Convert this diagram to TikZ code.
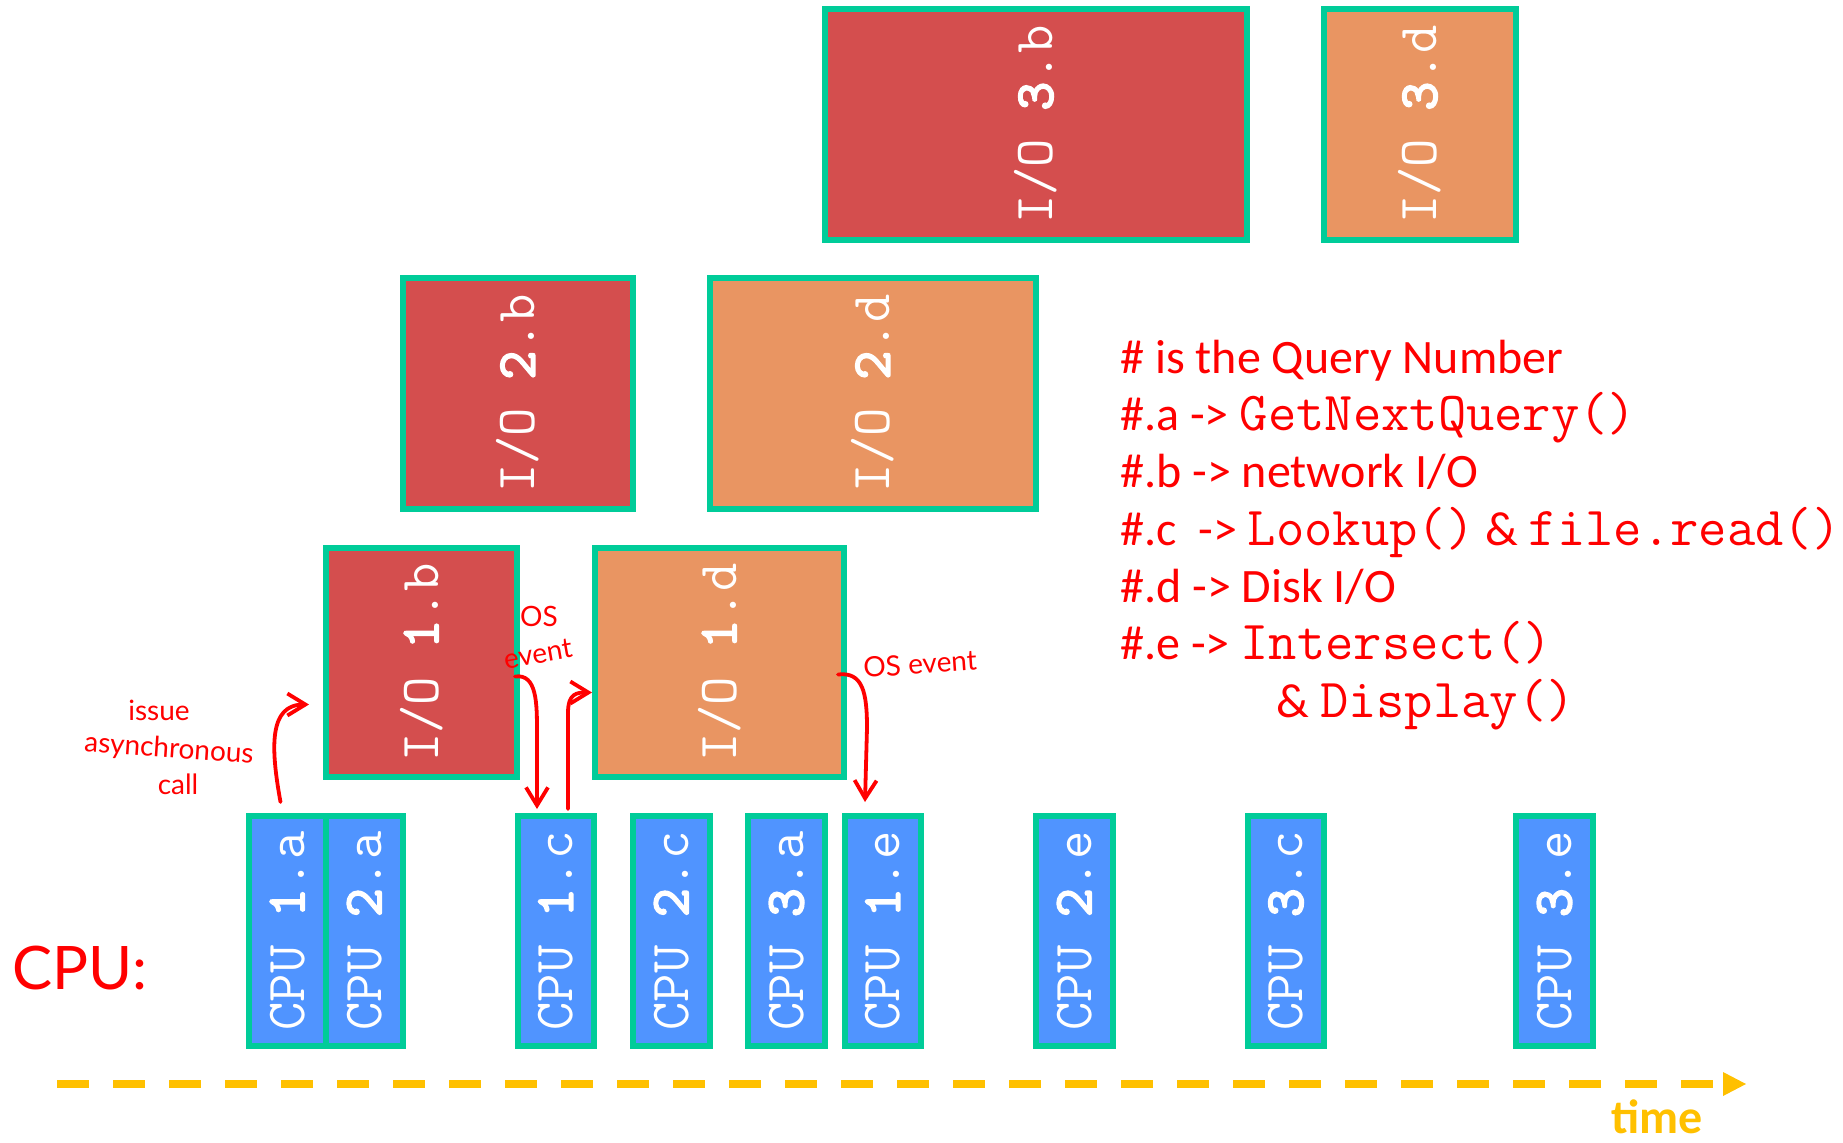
\documentclass[tikz,border=0pt]{standalone}
\usepackage{fontspec}
\usepackage{graphicx}
\usetikzlibrary{arrows.meta,calc}
\setmainfont{Carlito}
\newfontfamily\hand{Lato}
\newfontfamily\ttbold{lmmono10-regular.otf}[FakeBold=3]
\definecolor{iored}{RGB}{212,78,78}
\definecolor{ioorange}{RGB}{233,149,98}
\definecolor{cpublue}{RGB}{80,148,255}
\definecolor{bordergreen}{RGB}{0,204,153}
\definecolor{timegold}{RGB}{255,192,0}
\newcommand\legmono{\ttfamily\fontsize{27.5}{28}\selectfont}
\newcommand\dg[1]{{\ttbold #1}}
\newcommand\mkbox[7]{\node[#6, minimum width={(#4-#2-6)*0.5pt}, minimum height={(#5-#3-6)*0.5pt}] (#1) at ({(#2+#4)/2},{-(#3+#5)/2}) {\rotatebox{90}{#7}};}
\tikzset{
  blk/.style={draw=bordergreen, line width=3pt, inner sep=0pt, text=white, font=\ttfamily\fontsize{27.5}{27.5}\selectfont},
  redblk/.style={blk, fill=iored},
  orangeblk/.style={blk, fill=ioorange},
  cpublk/.style={blk, fill=cpublue},
  legend/.style={anchor=base west, text=red, font=\fontsize{24}{28}\selectfont, inner sep=0pt},
  note/.style={text=red, font=\hand\fontsize{14}{16}\selectfont, inner sep=0pt},
  handarrow/.style={red, line width=1.9pt, line cap=round, line join=round, -{Straight Barb[length=9pt,width=11pt]}},
  timeline/.style={timegold, line width=4pt, dash pattern=on 16pt off 12pt}
}
\begin{document}
\begin{tikzpicture}[x=0.5pt,y=0.5pt]
\useasboundingbox (0,0) rectangle (1843,-1142);
% I/O row 3
\mkbox{io3b}{822}{6}{1250}{243}{redblk}{I/O \dg{3}.b}
\mkbox{io3d}{1321}{6}{1519}{243}{orangeblk}{I/O \dg{3}.d}
% I/O row 2
\mkbox{io2b}{400}{275}{636}{512}{redblk}{I/O \dg{2}.b}
\mkbox{io2d}{707}{275}{1039}{512}{orangeblk}{I/O \dg{2}.d}
% I/O row 1
\mkbox{io1b}{323}{545}{520}{780}{redblk}{I/O \dg{1}.b}
\mkbox{io1d}{592}{545}{847}{780}{orangeblk}{I/O \dg{1}.d}
% CPU row
\mkbox{cpu1a}{246}{813}{329}{1049}{cpublk}{CPU \dg{1}.a}
\mkbox{cpu2a}{323}{813}{406}{1049}{cpublk}{CPU \dg{2}.a}
\mkbox{cpu1c}{515}{813}{597}{1049}{cpublk}{CPU \dg{1}.c}
\mkbox{cpu2c}{630}{813}{713}{1049}{cpublk}{CPU \dg{2}.c}
\mkbox{cpu3a}{745}{813}{828}{1049}{cpublk}{CPU \dg{3}.a}
\mkbox{cpu1e}{842}{813}{924}{1049}{cpublk}{CPU \dg{1}.e}
\mkbox{cpu2e}{1033}{813}{1116}{1049}{cpublk}{CPU \dg{2}.e}
\mkbox{cpu3c}{1245}{813}{1327}{1049}{cpublk}{CPU \dg{3}.c}
\mkbox{cpu3e}{1513}{813}{1596}{1049}{cpublk}{CPU \dg{3}.e}
% legend
\node[legend] (l1) at (1120,-373) {\# is the Query Number};
\node[legend] (l2) at (1120,-430) {\#.a -> {\legmono GetNextQuery()}};
\node[legend] (l3) at (1120,-487) {\#.b -> network I/O};
\node[legend] (l4) at (1120,-545) {\#.c\ \ -> {\legmono Lookup()} \& {\legmono file.read()}};
\node[legend] (l5) at (1120,-602) {\#.d -> Disk I/O};
\node[legend] (l6) at (1120,-659) {\#.e -> {\legmono Intersect()}};
\node[legend] (l7) at (1276,-717) {\& {\legmono Display()}};
% handwritten notes
\node[note] (n1) at (159,-710) {issue};
\node[note, rotate=-4] (n2) at (169,-750) {asynchronous};
\node[note] (n3) at (178,-784) {call};
\node[note] (n4) at (539,-616) {OS};
\node[note, rotate=10] (n5) at (538,-654) {event};
\node[note, rotate=4] (n6) at (920,-664) {OS event};
\node[text=red, font=\hand\fontsize{30}{32}\selectfont, inner sep=0pt] (cpulbl) at (80,-968) {CPU:};
% hand arrows
\draw[handarrow] ($(cpu1a.north)+(-7,11)$) .. controls +(-10,55) and +(-40,0) .. ($(io1b.west)+(-14,-42)$);
\draw[handarrow] ($(io1b.east)+(-5,-14)$) .. controls +(22,3) and +(0,30) .. ($(cpu1c.north)+(-19,80)$) -- ($(cpu1c.north)+(-19,4)$);
\draw[handarrow] ($(cpu1c.north)+(12,4)$) -- ($(cpu1c.north)+(12,100)$) .. controls +(0,20) and +(-15,0) .. ($(io1d.west)+(0,-30)$);
\draw[handarrow] ($(io1d.east)+(-9,-12)$) .. controls +(25,3) and +(0,35) .. ($(cpu1e.north)+(-16,85)$) -- ($(cpu1e.north)+(-18,11)$);
% time axis
\coordinate (tstart) at (57,-1084);
\coordinate (tend) at (1713,-1084);
\coordinate (ttip) at (1746,-1084);
\draw[timeline] (tstart) -- (tend);
\fill[timegold] ($(ttip)+(-23,12)$) -- (ttip) -- ($(ttip)+(-23,-12)$) -- cycle;
\node[anchor=base, text=timegold, font=\bfseries\fontsize{24}{28}\selectfont, inner sep=0pt] (timelbl) at (1657,-1133) {time};
\end{tikzpicture}
\end{document}
